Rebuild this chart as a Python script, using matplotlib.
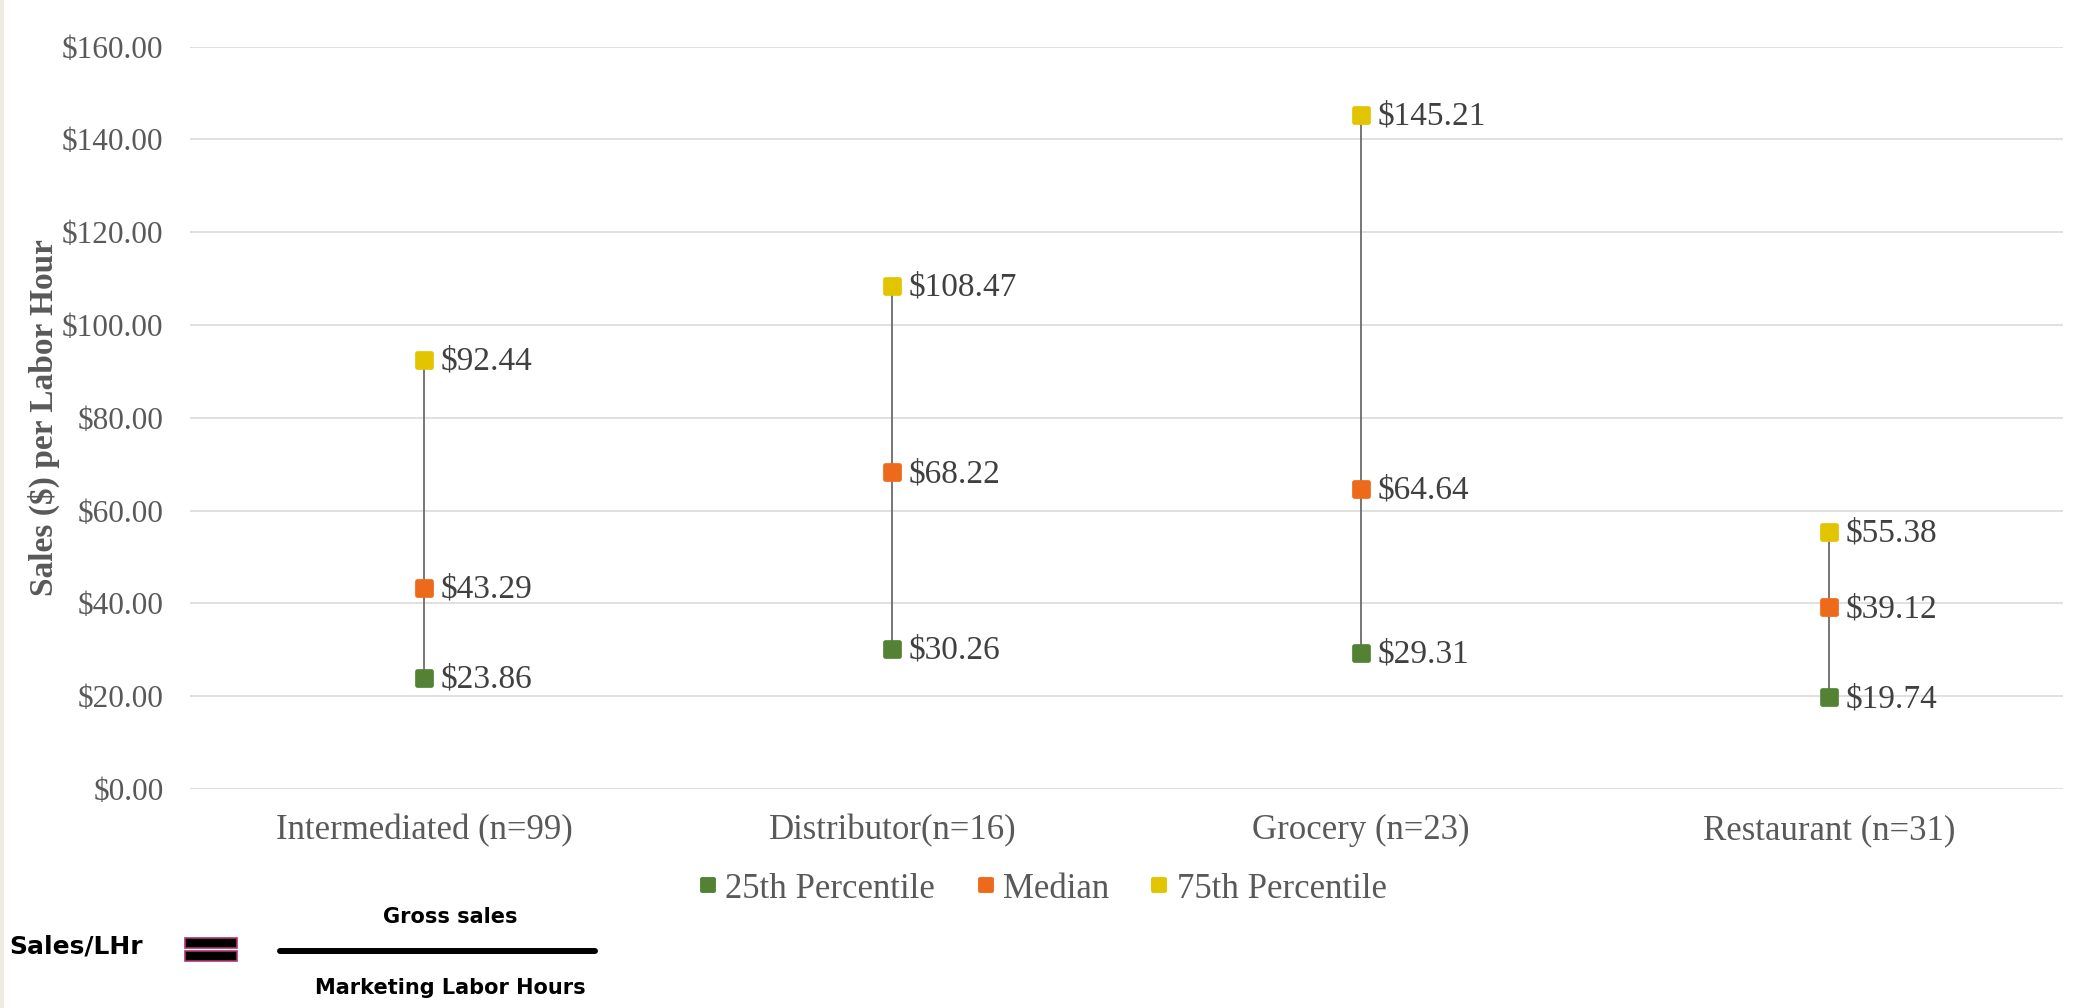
import matplotlib
matplotlib.use("Agg")
import matplotlib.pyplot as plt
from matplotlib.lines import Line2D
from matplotlib.markers import MarkerStyle
from matplotlib.patches import Rectangle
from matplotlib.ticker import FuncFormatter

# Sales per labor hour by market channel
channels = ["Intermediated (n=99)", "Distributor(n=16)", "Grocery (n=23)", "Restaurant (n=31)"]
p25 = [23.86, 30.26, 29.31, 19.74]
median = [43.29, 68.22, 64.64, 39.12]
p75 = [92.44, 108.47, 145.21, 55.38]
series_names = ["25th Percentile", "Median", "75th Percentile"]
y_ticks = [0, 20, 40, 60, 80, 100, 120, 140, 160]

GREEN = "#548235"
ORANGE = "#EE6A1B"
YELLOW = "#E2C400"
TEXT = "#595959"

plt.rcParams["font.family"] = ["Liberation Serif", "DejaVu Serif"]

fig = plt.figure(figsize=(20.8, 10.08), dpi=100)
fig.patch.set_facecolor("white")
ax = fig.add_axes([190 / 2080, 1 - 789 / 1008, (2063 - 190) / 2080, (789 - 46.5) / 1008])

x = list(range(len(channels)))

# thin range line from 25th to 75th percentile
for i in x:
    ax.plot([i, i], [p25[i], p75[i]], color="#6b6b6b", lw=1.3, zorder=2)

square = MarkerStyle("s", joinstyle="round")
for vals, col in zip([p25, median, p75], [GREEN, ORANGE, YELLOW]):
    ax.plot(x, vals, ls="none", marker=square, ms=10.5, mfc=col, mec=col, mew=3.4, zorder=3)
    for i, v in zip(x, vals):
        ax.annotate(f"${v:.2f}", (i, v), xytext=(12, -1), textcoords="offset points",
                    ha="left", va="center", fontsize=24, color="#404040", zorder=4)

ax.set_xlim(-0.5, len(channels) - 0.5)
ax.set_ylim(0, 160)
ax.set_yticks(y_ticks)
ax.yaxis.set_major_formatter(FuncFormatter(lambda v, p: f"${v:.2f}"))
ax.set_xticks(x)
ax.set_xticklabels(channels)
ax.tick_params(axis="y", length=0, pad=19, labelsize=22.5, labelcolor=TEXT)
ax.tick_params(axis="x", length=0, pad=18, labelsize=25, labelcolor=TEXT)
ax.grid(axis="y", color="#e0e0e0", lw=1.4, zorder=0)
ax.set_axisbelow(True)
for s in ax.spines.values():
    s.set_visible(False)

fig.text(44 / 2080, 1 - 418 / 1008, "Sales ($) per Labor Hour", rotation=90,
         ha="center", va="center", fontsize=24, fontweight="bold", color=TEXT)

# legend under the plot
handles = [Line2D([], [], ls="none", marker=square, ms=9, mfc=c, mec=c, mew=2.8)
           for c in [GREEN, ORANGE, YELLOW]]
leg = fig.legend(handles, series_names, loc="center", bbox_to_anchor=(1043 / 2080, 1 - 889 / 1008),
                 ncol=3, frameon=False, fontsize=25, handlelength=0.5, handletextpad=0.25,
                 columnspacing=1.2)
for t in leg.get_texts():
    t.set_color(TEXT)

# beige strip at the left edge
fig.patches.append(Rectangle((0, 0), 4 / 2080, 1, transform=fig.transFigure,
                             facecolor="#eeebe3", edgecolor="none"))

# formula: Sales/LHr = Gross sales / Marketing Labor Hours
ff = ["DejaVu Sans"]
fig.text(9 / 2080, 1 - 946 / 1008, "Sales/LHr", ha="left", va="center",
         fontsize=18, fontweight="bold", family=ff, color="black")
for y0 in (938, 951):
    fig.patches.append(Rectangle((185 / 2080, 1 - (y0 + 10) / 1008), 52 / 2080, 10 / 1008,
                                 transform=fig.transFigure, facecolor="black",
                                 edgecolor="#b0336e", lw=1.2))
fig.add_artist(Line2D([280 / 2080, 595 / 2080], [1 - 951 / 1008, 1 - 951 / 1008],
                      transform=fig.transFigure, color="black", lw=4.3, solid_capstyle="round"))
fig.text(450 / 2080, 1 - 917 / 1008, "Gross sales", ha="center", va="center",
         fontsize=15, fontweight="bold", family=ff, color="black")
fig.text(450 / 2080, 1 - 988 / 1008, "Marketing Labor Hours", ha="center", va="center",
         fontsize=15, fontweight="bold", family=ff, color="black")

fig.savefig("out.png", dpi=100)
